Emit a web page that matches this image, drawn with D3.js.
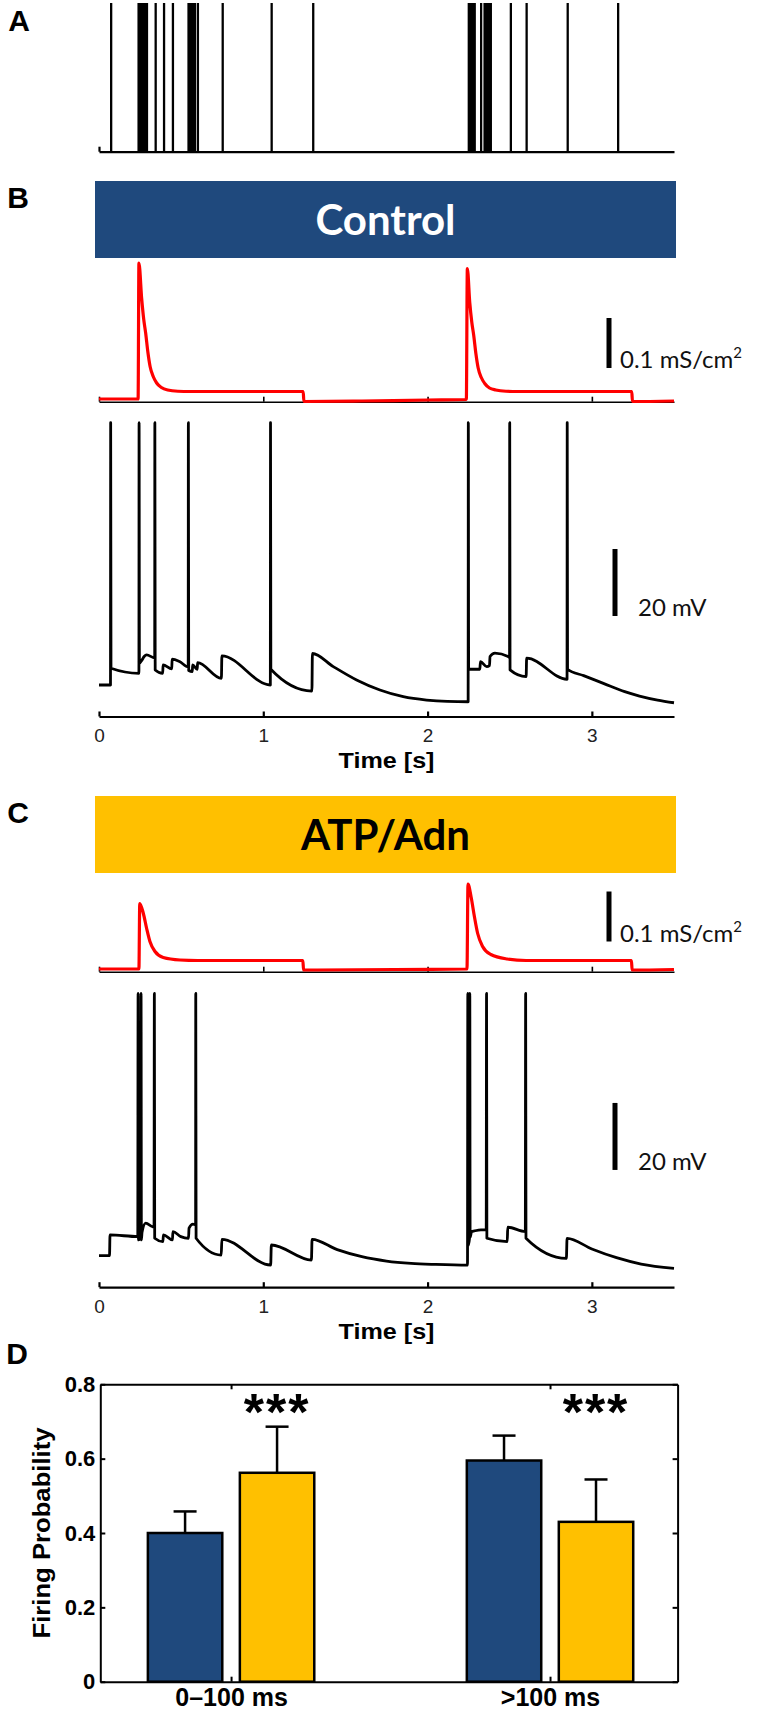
<!DOCTYPE html>
<html>
<head>
<meta charset="utf-8">
<script src="https://cdn.jsdelivr.net/npm/d3@7"></script>
<style>
body { margin: 0; background: #fff; }
.letter { font-family: "Liberation Sans", Arial, sans-serif; font-weight: bold; font-size: 30px; }
.note { font-family: Lato, "Open Sans", sans-serif; }
.time .tick text { font-family: "Liberation Sans", Arial, sans-serif; font-size: 19px; fill: #222; }
.bars .tick text { font-family: "Liberation Sans", Arial, sans-serif; font-weight: bold; }
</style>
</head>
<body>
<script>
var width = 767, height = 1711;
var blue = "#1f497d", gold = "#ffc000";

// A: input spike train, times in s
var inputSpikes = [0.074, 0.241, 0.249, 0.257, 0.265, 0.273, 0.281, 0.289, 0.292,
                   0.345, 0.396, 0.450, 0.545, 0.552, 0.560, 0.568, 0.576, 0.584, 0.602,
                   0.753, 1.051, 1.304,
                   2.251, 2.258, 2.265, 2.272, 2.280, 2.287, 2.326,
                   2.347, 2.355, 2.362, 2.370, 2.378, 2.385, 2.507, 2.603, 2.853, 3.160];

// B/C: synaptic conductance [t (s), g (mS/cm2)]
var gControl = [[0, 0], [0.238, 0], [0.243, 0.272], [0.26, 0.2], [0.272, 0.16], [0.284, 0.132],
                [0.297, 0.095], [0.311, 0.065], [0.33, 0.045], [0.351, 0.032], [0.38, 0.023],
                [0.418, 0.018], [0.48, 0.0155], [0.551, 0.015], [1.243, 0.015], [1.247, -0.005],
                [1.6, -0.004], [2.0, -0.002], [2.236, -0.001], [2.242, 0.261], [2.257, 0.192],
                [2.269, 0.154], [2.281, 0.127], [2.294, 0.091], [2.308, 0.062], [2.327, 0.043],
                [2.348, 0.031], [2.377, 0.022], [2.415, 0.018], [2.477, 0.0155], [2.548, 0.015],
                [3.243, 0.015], [3.247, -0.005], [3.5, -0.004]];
var gAtp = [[0, 0], [0.243, 0], [0.248, 0.131], [0.27, 0.111], [0.29, 0.081], [0.31, 0.055],
            [0.341, 0.035], [0.391, 0.023], [0.493, 0.018], [0.6, 0.017], [1.241, 0.017],
            [1.245, -0.002], [1.8, -0.001], [2.24, 0], [2.246, 0.17], [2.265, 0.144],
            [2.285, 0.105], [2.305, 0.071], [2.335, 0.045], [2.385, 0.029], [2.485, 0.02],
            [2.6, 0.017], [3.241, 0.017], [3.245, -0.002], [3.5, -0.001]];

// B/C: membrane potential [t (s), V (mV)]
var vControl = [[0, -65], [0.070, -65], [0.071, 13.3], [0.073, -60.0], [0.243, -61.5], [0.244, 13.3],
                [0.246, -58.5], [0.262, -57.5], [0.275, -56.5], [0.29, -56.0], [0.339, -56.9],
                [0.340, 13.3], [0.342, -60.5], [0.388, -61.5], [0.390, -59.0], [0.443, -60.2],
                [0.445, -57.3], [0.49, -58.0], [0.543, -59.6], [0.544, 13.3], [0.546, -60.7],
                [0.568, -61.0], [0.570, -59.0], [0.598, -60.3], [0.600, -58.3], [0.745, -63.0],
                [0.748, -56.3], [1.043, -65.0], [1.044, 13.3], [1.046, -60.3], [1.296, -66.8],
                [1.299, -55.6], [1.426, -59.5], [1.568, -63.5], [1.71, -66.5], [1.852, -68.5],
                [1.994, -69.5], [2.12, -69.9], [2.247, -70.0], [2.248, 13.3], [2.250, -60.3],
                [2.318, -60.3], [2.322, -58.0], [2.36, -59.5], [2.377, -59.2], [2.38, -56.5],
                [2.41, -55.5], [2.49, -56.5], [2.499, -56.8], [2.500, 13.3], [2.502, -60.5],
                [2.600, -62.5], [2.603, -57.0], [2.849, -63.3], [2.850, 13.3], [2.852, -60.3],
                [2.95, -62.2], [3.07, -64.5], [3.2, -67.0], [3.29, -68.3], [3.4, -69.5], [3.5, -70.3]];
var vAtp = [[0, -65], [0.064, -65], [0.067, -58.8], [0.236, -59.3], [0.238, 13.3], [0.240, -60.3],
            [0.254, -59.5], [0.256, 13.3], [0.258, -60.3], [0.262, -58.0], [0.284, -55.3],
            [0.324, -56.3], [0.335, -56.5], [0.337, 13.3], [0.339, -59.8], [0.389, -60.8],
            [0.392, -58.8], [0.447, -60.3], [0.450, -57.8], [0.498, -59.3], [0.545, -59.8],
            [0.548, -56.8], [0.572, -55.6], [0.588, -55.8], [0.589, 13.3], [0.591, -59.8],
            [0.744, -64.8], [0.748, -60.1], [1.045, -67.8], [1.049, -61.8], [1.293, -66.3],
            [1.297, -60.1], [1.45, -63.2], [1.6, -65.3], [1.75, -66.6], [1.9, -67.3], [2.05, -67.6],
            [2.243, -67.8], [2.245, 13.3], [2.247, -62.0], [2.255, -60.0], [2.257, 13.3],
            [2.259, -59.5], [2.268, -57.8], [2.285, -57.6], [2.325, -57.3], [2.357, -57.3],
            [2.359, 13.3], [2.361, -59.8], [2.485, -60.8], [2.488, -56.5], [2.595, -57.8],
            [2.597, 13.3], [2.599, -59.8], [2.845, -65.8], [2.849, -59.8], [3.0, -63.0],
            [3.15, -65.6], [3.3, -67.5], [3.5, -68.8]];
var timeTicks = [0, 1, 2, 3];

// D: firing probability
var groups = ["0\u2013100 ms", ">100 ms"];
var conditions = ["Control", "ATP/Adn"];
var probControl = [0.40, 0.595], probAtp = [0.562, 0.43];
var semControl = [0.058, 0.067], semAtp = [0.124, 0.114];
var stars = ["***", "***"];
var probTicks = [0, 0.2, 0.4, 0.6, 0.8];

var svg = d3.select("body").append("svg")
            .attr("width", width).attr("height", height);

var x = d3.scaleLinear().domain([0, 3.5]).range([99, 674]);

function letter(txt, cx, cy) {
    svg.append("text").classed("letter", true).attr("x", cx).attr("y", cy)
       .attr("text-anchor", "middle").attr("dy", "0.36em").text(txt);
}

//panel A
letter("A", 19, 20);
var rasterY = d3.scaleLinear().domain([0, 1]).range([151.7, 3]);
svg.append("g").selectAll("line").data(inputSpikes).enter().append("line")
   .attr("x1", function(d){ return x(d); }).attr("x2", function(d){ return x(d); })
   .attr("y1", rasterY(0)).attr("y2", rasterY(1))
   .attr("stroke", "#000").attr("stroke-width", 2.3);
svg.append("g").attr("transform", "translate(0," + rasterY(0) + ")")
   .call(d3.axisBottom(x).tickValues([0]).tickSize(-5).tickSizeOuter(0).tickFormat(""))
   .call(function(g){ g.selectAll("path,line").attr("stroke", "#000").attr("stroke-width", 2.2); });

//panels B and C
function trial(o) {
    letter(o.letter, 18, o.top + 16);
    svg.append("rect").attr("x", x.range()[0] - 4).attr("y", o.top)
       .attr("width", x.range()[1] - x.range()[0] + 6).attr("height", 77).attr("fill", o.color);
    svg.append("text").classed("note", true)
       .attr("x", (x.range()[0] + x.range()[1]) / 2 - 1).attr("y", o.top + 39).attr("dy", "0.36em")
       .attr("text-anchor", "middle").attr("font-size", 42).attr("font-weight", "bold")
       .attr("fill", o.textColor).text(o.name);

    // conductance
    var gy = d3.scaleLinear().domain([0, 0.1]).range([o.g0, o.g0 - 50]);
    svg.append("g").attr("transform", "translate(0," + gy(-0.0054) + ")")
       .call(d3.axisBottom(x).tickValues(timeTicks).tickSize(-5).tickSizeOuter(0).tickFormat(""))
       .call(function(g){ g.selectAll("path,line").attr("stroke", "#000").attr("stroke-width", 1.6); });
    svg.append("path").datum(o.g)
       .attr("d", d3.line().curve(d3.curveMonotoneX)
                 .x(function(d){ return x(d[0]); }).y(function(d){ return gy(d[1]); }))
       .attr("fill", "none").attr("stroke", "#f00").attr("stroke-width", 3.2);
    svg.append("line").attr("x1", 609).attr("x2", 609)
       .attr("y1", gy(o.gBar)).attr("y2", gy(o.gBar + 0.1))
       .attr("stroke", "#000").attr("stroke-width", 5);
    var gl = svg.append("text").classed("note", true).attr("x", 620).attr("y", gy(o.gBar))
       .attr("font-size", 24).attr("fill", "#111").text("0.1 mS/cm");
    gl.append("tspan").attr("dy", -10).attr("font-size", 15).text("2");

    // membrane potential
    var vy = d3.scaleLinear().domain([-65, -45]).range([o.v0, o.v0 - 67]);
    var ax = svg.append("g").classed("time", true).attr("transform", "translate(0," + vy(-74.4) + ")")
       .call(d3.axisBottom(x).tickValues(timeTicks).tickSize(-5).tickSizeOuter(0).tickPadding(12)
               .tickFormat(d3.format("d")));
    ax.selectAll("path,line").attr("stroke", "#000").attr("stroke-width", 2.2);
    svg.append("text").attr("x", x(1.75)).attr("y", vy(-74.4) + 52)
       .attr("text-anchor", "middle").attr("font-family", "Liberation Sans, Arial, sans-serif")
       .attr("font-weight", "bold").attr("font-size", 22)
       .attr("textLength", 96).attr("lengthAdjust", "spacingAndGlyphs").text("Time [s]");
    svg.append("path").datum(o.v)
       .attr("d", d3.line().curve(d3.curveMonotoneX)
                 .x(function(d){ return x(d[0]); }).y(function(d){ return vy(d[1]); }))
       .attr("fill", "none").attr("stroke", "#000").attr("stroke-width", 2.8)
       .attr("stroke-linejoin", "round");
    svg.append("line").attr("x1", 615).attr("x2", 615)
       .attr("y1", vy(o.vBar)).attr("y2", vy(o.vBar + 20))
       .attr("stroke", "#000").attr("stroke-width", 5);
    svg.append("text").classed("note", true).attr("x", 638).attr("y", vy(o.vBar))
       .attr("font-size", 24).attr("fill", "#111").text("20 mV");
}

trial({letter: "B", top: 181, color: blue, textColor: "#fff", name: "Control",
       g: gControl, g0: 399, gBar: 0.062, v: vControl, v0: 685, vBar: -44.4});
trial({letter: "C", top: 796, color: gold, textColor: "#000", name: "ATP/Adn",
       g: gAtp, g0: 969, gBar: 0.055, v: vAtp, v0: 1255.7, vBar: -39.4});

//panel D
letter("D", 17, 1353);
var xD = d3.scaleLinear().domain([0.59, 2.4]).range([100.3, 677.6]);
var yD = d3.scaleLinear().domain([0, 0.8]).range([1681.7, 1384.3]);
var inner = d3.scaleBand().domain(conditions).range([-83.2, 83.2]).paddingInner(0.191);

var rows = [];
groups.forEach(function(g, i){
    rows.push({pos: i + 1, cond: conditions[0], value: probControl[i], sem: semControl[i], color: blue});
    rows.push({pos: i + 1, cond: conditions[1], value: probAtp[i], sem: semAtp[i], color: gold});
});

var chartD = svg.append("g").classed("bars", true);
chartD.selectAll("rect").data(rows).enter().append("rect")
      .attr("x", function(d){ return xD(d.pos) + inner(d.cond); })
      .attr("y", function(d){ return yD(d.value); })
      .attr("width", inner.bandwidth())
      .attr("height", function(d){ return yD(0) - yD(d.value); })
      .attr("fill", function(d){ return d.color; })
      .attr("stroke", "#000").attr("stroke-width", 2.5);

var err = chartD.selectAll(".err").data(rows).enter().append("g").classed("err", true)
      .attr("transform", function(d){ return "translate(" + (xD(d.pos) + inner(d.cond) + inner.bandwidth() / 2) + ",0)"; });
err.append("line").attr("y1", function(d){ return yD(d.value); })
   .attr("y2", function(d){ return yD(d.value + d.sem); })
   .attr("stroke", "#000").attr("stroke-width", 2.5);
err.append("line").attr("x1", -11.5).attr("x2", 11.5)
   .attr("y1", function(d){ return yD(d.value + d.sem); })
   .attr("y2", function(d){ return yD(d.value + d.sem); })
   .attr("stroke", "#000").attr("stroke-width", 2.5);

chartD.selectAll(".star").data(stars).enter().append("text").classed("star", true)
      .attr("x", function(d, i){ return xD(i + 1) + inner(conditions[1]) + inner.bandwidth() / 2; })
      .attr("y", yD(0.749) + 27).attr("text-anchor", "middle")
      .attr("font-family", "Liberation Sans, Arial, sans-serif").attr("font-weight", "bold")
      .attr("font-size", 52).attr("letter-spacing", 2).text(function(d){ return d; });

function frame(g){ g.selectAll("path,line").attr("stroke", "#000").attr("stroke-width", 2); }
chartD.append("g").attr("transform", "translate(" + xD.range()[0] + ",0)")
      .call(d3.axisLeft(yD).tickValues(probTicks).tickSize(-5).tickSizeOuter(0).tickPadding(5)
              .tickFormat(function(d){ return d === 0 ? "0" : d3.format(".1f")(d); }))
      .call(frame).selectAll("text").attr("font-size", 22).attr("fill", "#000");
chartD.append("g").attr("transform", "translate(" + xD.range()[1] + ",0)")
      .call(d3.axisRight(yD).tickValues(probTicks).tickSize(-5).tickSizeOuter(0).tickFormat(""))
      .call(frame);
chartD.append("g").attr("transform", "translate(0," + yD.range()[1] + ")")
      .call(d3.axisTop(xD).tickValues([1, 2]).tickSize(-5).tickSizeOuter(0).tickFormat(""))
      .call(frame);
chartD.append("g").attr("transform", "translate(0," + yD.range()[0] + ")")
      .call(d3.axisBottom(xD).tickValues([1, 2]).tickSize(-5).tickSizeOuter(0).tickPadding(7)
              .tickFormat(function(d, i){ return groups[i]; }))
      .call(frame).selectAll("text").attr("font-size", 25).attr("fill", "#000");

svg.append("text").attr("transform", "translate(50," + yD(0.4) + ") rotate(-90)")
   .attr("text-anchor", "middle").attr("font-family", "Liberation Sans, Arial, sans-serif")
   .attr("font-weight", "bold").attr("font-size", 24)
   .attr("textLength", 211).attr("lengthAdjust", "spacingAndGlyphs")
   .text("Firing Probability");
</script>
</body>
</html>
